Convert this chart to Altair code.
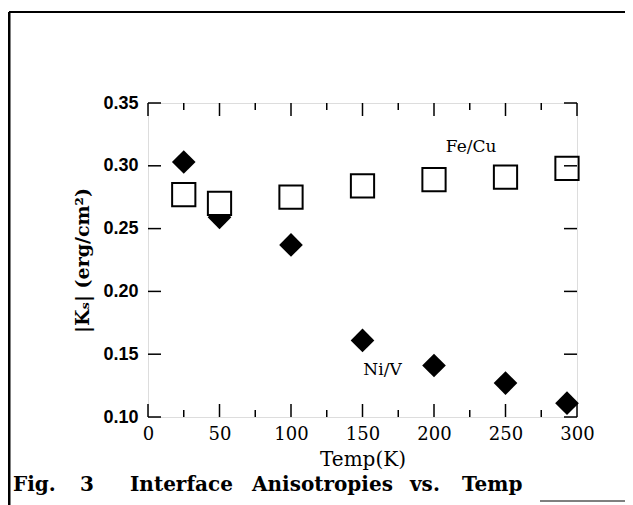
import altair as alt
import pandas as pd

# ---- data ----
temp_fecu = [25, 50, 100, 150, 200, 250, 293]
ks_fecu = [0.277, 0.270, 0.275, 0.284, 0.289, 0.291, 0.298]
temp_niv = [25, 50, 100, 150, 200, 250, 293]
ks_niv = [0.303, 0.259, 0.237, 0.161, 0.141, 0.127, 0.111]

x_major = [0, 50, 100, 150, 200, 250, 300]
x_minor = [25, 75, 125, 175, 225, 275]
y_major = [0.10, 0.15, 0.20, 0.25, 0.30, 0.35]

label_text = ["Fe/Cu", "Ni/V"]
label_x = [226, 164]
label_y = [0.315, 0.1375]

caption_words = ["Fig.", "3", "Interface", "Anisotropies", "vs.", "Temp"]
caption_px = [13, 80, 130, 252, 410, 462]  # left edge of each word on the page

W, H = 429, 314
PL, PT = 140, 95

fecu = pd.DataFrame({"temp": temp_fecu, "ks": ks_fecu})
niv = pd.DataFrame({"temp": temp_niv, "ks": ks_niv})
labels = pd.DataFrame({"text": label_text, "temp": label_x, "ks": label_y})
xmaj = pd.DataFrame({"v": x_major})
xmin = pd.DataFrame({"v": x_minor})
ymaj = pd.DataFrame({"v": y_major})
cap = pd.DataFrame({"t": caption_words, "px": [p - 8 - PL for p in caption_px]})

xs = alt.Scale(domain=[0, 300], nice=False, zero=False)
ys = alt.Scale(domain=[0.10, 0.35], nice=False, zero=False)

SERIF = "DejaVu Serif"

base_x = alt.X(
    "temp:Q", scale=xs,
    axis=alt.Axis(
        values=x_major, format="d", ticks=False, domain=False, grid=False,
        labelFont=SERIF, labelFontSize=18, labelColor="black", labelPadding=8,
        labelFlush=False,
        title="Temp(K)", titleFont=SERIF, titleFontSize=20, titleFontWeight="normal",
        titleColor="black", titleBaseline="middle", titleY=42,
    ),
)
base_y = alt.Y(
    "ks:Q", scale=ys,
    axis=alt.Axis(
        values=y_major, format=".2f", ticks=False, domain=False, grid=False,
        labelFont="Liberation Sans", labelFontSize=18, labelFontWeight="bold",
        labelColor="black", labelPadding=10, labelFlush=False,
        title="|Kₛ| (erg/cm²)", titleFont=SERIF, titleFontSize=19,
        titleFontWeight="bold", titleColor="black", titleAngle=270,
        titleAlign="center", titleBaseline="middle", titleX=-66, titleY=157,
    ),
)

diamonds = alt.Chart(niv).mark_point(
    shape="diamond", filled=True, color="black", size=560, opacity=1
).encode(x=base_x, y=base_y)

squares = alt.Chart(fecu).mark_point(
    shape="square", filled=True, fill="white", stroke="black", strokeWidth=2,
    size=540, opacity=1
).encode(x=alt.X("temp:Q", scale=xs), y=alt.Y("ks:Q", scale=ys))

texts = alt.Chart(labels).mark_text(
    font=SERIF, fontSize=17, color="black", align="center", baseline="middle"
).encode(x=alt.X("temp:Q", scale=xs), y=alt.Y("ks:Q", scale=ys), text="text:N")

tick_bot_major = alt.Chart(xmaj).mark_rule(color="black", strokeWidth=1.5).encode(
    x=alt.X("v:Q", scale=xs), y=alt.value(H), y2=alt.value(H - 13))
tick_bot_minor = alt.Chart(xmin).mark_rule(color="black", strokeWidth=1.5).encode(
    x=alt.X("v:Q", scale=xs), y=alt.value(H), y2=alt.value(H - 7))
tick_top_major = alt.Chart(xmaj).mark_rule(color="black", strokeWidth=1.5).encode(
    x=alt.X("v:Q", scale=xs), y=alt.value(0), y2=alt.value(13))
tick_top_minor = alt.Chart(xmin).mark_rule(color="black", strokeWidth=1.5).encode(
    x=alt.X("v:Q", scale=xs), y=alt.value(0), y2=alt.value(7))
tick_left = alt.Chart(ymaj).mark_rule(color="black", strokeWidth=1.5).encode(
    y=alt.Y("v:Q", scale=ys), x=alt.value(0), x2=alt.value(13))
tick_right = alt.Chart(ymaj).mark_rule(color="black", strokeWidth=1.5).encode(
    y=alt.Y("v:Q", scale=ys), x=alt.value(W), x2=alt.value(W - 13))

# outer figure frame and caption
one = pd.DataFrame({"a": [0]})
frame_left = alt.Chart(one).mark_rule(color="black", strokeWidth=3).encode(
    x=alt.value(-PL + 1), y=alt.value(-PT + 4), y2=alt.value(H + 200))
frame_top = alt.Chart(one).mark_rule(color="black", strokeWidth=2).encode(
    x=alt.value(-PL + 1), x2=alt.value(W + 60), y=alt.value(-PT + 4))
underline = alt.Chart(one).mark_rule(color="black", strokeWidth=1).encode(
    x=alt.value(392), x2=alt.value(W + 60), y=alt.value(398))
caption = alt.Chart(cap).mark_text(
    font=SERIF, fontSize=20, fontWeight="bold", color="black", align="left",
    baseline="alphabetic").encode(x=alt.X("px:Q", scale=None), y=alt.value(388), text="t:N")

chart = alt.layer(
    diamonds, squares, texts,
    tick_bot_major, tick_bot_minor, tick_top_major, tick_top_minor, tick_left, tick_right,
    frame_left, frame_top, underline, caption,
).properties(
    width=W, height=H,
    padding={"left": PL, "top": PT, "right": 48, "bottom": 90},
    autosize=alt.AutoSizeParams(type="none"),
).configure_view(stroke="black", strokeWidth=2).configure(background="white")

chart.save("out.html", embed_options={"renderer": "svg", "actions": False})
